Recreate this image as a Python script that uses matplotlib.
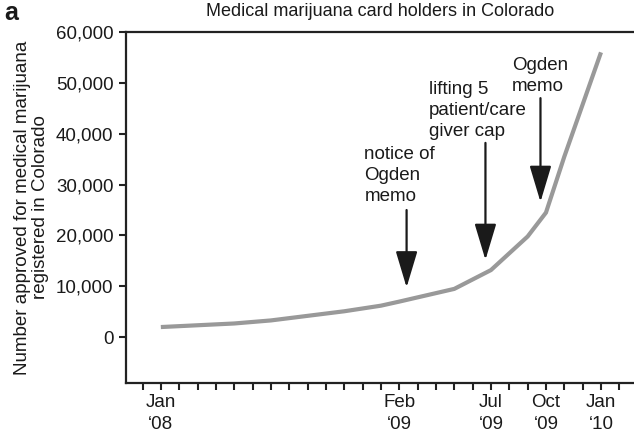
import matplotlib
matplotlib.use("Agg")
import matplotlib.pyplot as plt

plt.rcParams["font.family"] = ["Liberation Sans", "DejaVu Sans"]

# month offset from Jan 2008
months = [0, 4, 6, 8, 10, 12, 13, 16, 18, 20, 21, 22, 24]
holders = [2000, 2700, 3300, 4200, 5100, 6200, 7000, 9500, 13200, 19800, 24500, 35500, 56000]

tick_months = list(range(-1, 26))
label_months = {0: "Jan\n\u201808", 13: "Feb\n\u201809", 18: "Jul\n\u201809",
                21: "Oct\n\u201809", 24: "Jan\n\u201810"}

y_ticks = [0, 10000, 20000, 30000, 40000, 50000, 60000]

# annotations: (text, text x, text top y, arrow x, arrow start y, arrow tip y)
notes = [
    ("notice of\nOgden\nmemo", 11.1, 37600, 13.4, 25000, 9800),
    ("lifting 5\npatient/care\ngiver cap", 14.6, 50400, 17.7, 38200, 15200),
    ("Ogden\nmemo", 19.15, 55000, 20.7, 47000, 26600),
]

FS = 13.5
INK = "#1a1a1a"

fig = plt.figure(figsize=(6.34, 4.36), dpi=100)
ax = fig.add_axes([126 / 634, 1 - 383 / 436, 1 - 126 / 634, (383 - 32) / 436])

ax.plot(months, holders, color="#999999", lw=3.0, solid_capstyle="butt",
        solid_joinstyle="miter")

for txt, tx, ty, ax_x, y0, y1 in notes:
    ax.text(tx, ty, txt, ha="left", va="top", fontsize=FS, linespacing=1.3,
            color=INK)
    ax.annotate("", xy=(ax_x, y1), xytext=(ax_x, y0),
                arrowprops=dict(arrowstyle="-|>,head_length=1.5,head_width=0.45",
                                mutation_scale=15, color=INK, lw=1.6,
                                shrinkA=0, shrinkB=0))

ax.set_xlim(-1.9, 25.8)
ax.set_ylim(-9000, 60000)
ax.set_xticks(tick_months)
ax.set_xticklabels([label_months.get(m, "") for m in tick_months],
                   linespacing=1.35)
ax.set_yticks(y_ticks)
ax.set_yticklabels([f"{v:,}" for v in y_ticks])
ax.tick_params(axis="both", direction="out", length=5, width=1.5, color="#222222",
               labelsize=FS, labelcolor=INK)
ax.tick_params(axis="x", pad=3)
ax.tick_params(axis="y", pad=4)

for s in ["left", "bottom", "top"]:
    ax.spines[s].set_linewidth(1.6)
    ax.spines[s].set_color("#222222")
ax.spines["right"].set_visible(False)

ax.set_ylabel("Number approved for medical marijuana\nregistered in Colorado",
              fontsize=FS, color=INK, labelpad=5, linespacing=1.1)
fig.text(380 / 634, 1 - 12 / 436, "Medical marijuana card holders in Colorado",
         ha="center", va="center", fontsize=13, color=INK)
fig.text(4 / 634, 1 - 13 / 436, "a", ha="left", va="center", fontsize=18,
         fontweight="bold", color=INK)

fig.savefig("out.png", dpi=100, facecolor="white")
